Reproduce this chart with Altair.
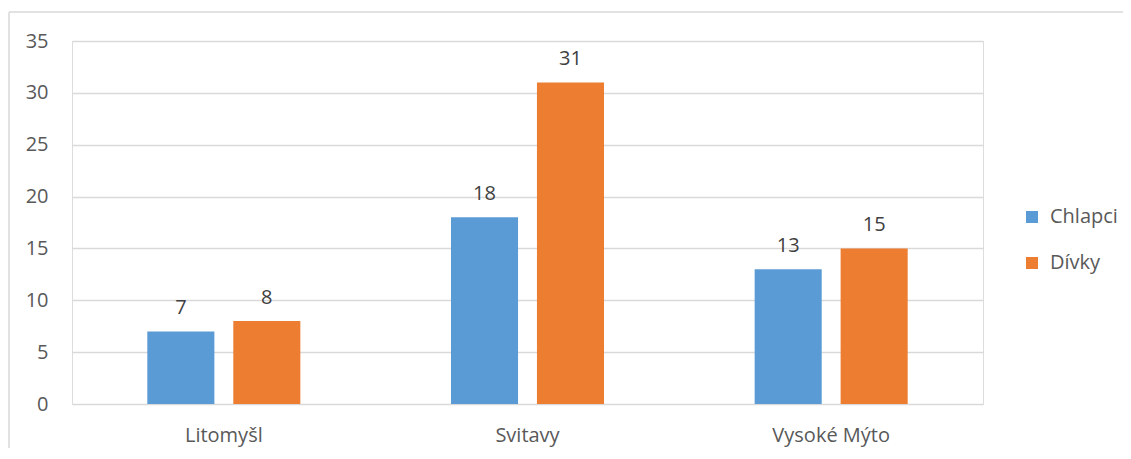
import altair as alt
import pandas as pd

mesta = ["Litomyšl", "Svitavy", "Vysoké Mýto"]
skupiny = ["Chlapci", "Dívky"]
chlapci = [7, 18, 13]
divky = [8, 31, 15]
barvy = ["#5B9BD5", "#ED7D31"]

rows = []
for i, m in enumerate(mesta):
    rows.append({"mesto": m, "skupina": "Chlapci", "pocet": chlapci[i]})
    rows.append({"mesto": m, "skupina": "Dívky", "pocet": divky[i]})
df = pd.DataFrame(rows)

FONT = "Open Sans"
FS = 20
W, H = 911, 363

base = alt.Chart(df).encode(
    x=alt.X("mesto:N", sort=mesta, title=None,
            scale=alt.Scale(paddingInner=0, paddingOuter=0),
            axis=alt.Axis(labelAngle=0, ticks=False, domain=False, labelPadding=21,
                          labelFontSize=FS, labelFont=FONT, labelColor="#595959")),
    xOffset=alt.XOffset("skupina:N", sort=skupiny,
                        scale=alt.Scale(paddingInner=0.22, paddingOuter=0.876)),
)

bars = base.mark_bar().encode(
    y=alt.Y("pocet:Q", title=None,
            scale=alt.Scale(domain=[0, 35], nice=False),
            axis=alt.Axis(values=[0, 5, 10, 15, 20, 25, 30, 35], ticks=False, domain=False,
                          labelPadding=24, labelFontSize=FS, labelFont=FONT,
                          labelColor="#595959", gridColor="#D9D9D9", gridWidth=1.5)),
    color=alt.Color("skupina:N", sort=skupiny,
                    scale=alt.Scale(domain=skupiny, range=barvy),
                    legend=alt.Legend(title=None, orient="none", legendX=950, legendY=166,
                                      symbolType="square", symbolSize=144,
                                      symbolStrokeWidth=0, rowPadding=26,
                                      labelFontSize=FS, labelFont=FONT,
                                      labelColor="#595959", labelOffset=8)),
)

labels = base.mark_text(dy=-17, baseline="alphabetic", fontSize=FS, font=FONT,
                        color="#404040").encode(
    y=alt.Y("pocet:Q"),
    text=alt.Text("pocet:Q"),
)

one = pd.DataFrame({"a": [0]})
frame_left = alt.Chart(one).mark_rule(color="#D9D9D9", strokeWidth=1.5).encode(
    x=alt.value(-63), y=alt.value(-29), y2=alt.value(460)
)
frame_top = alt.Chart(one).mark_rule(color="#D9D9D9", strokeWidth=1.5).encode(
    x=alt.value(-63), x2=alt.value(1100), y=alt.value(-29)
)

chart = alt.layer(frame_left, frame_top, bars, labels).properties(
    width=W, height=H,
    padding={"left": 64, "top": 33, "right": 140, "bottom": 44},
    autosize=alt.AutoSizeParams(type="none"),
).configure_view(stroke=None).configure(background="white")

chart.save("out.html", embed_options={"renderer": "svg", "actions": False})
